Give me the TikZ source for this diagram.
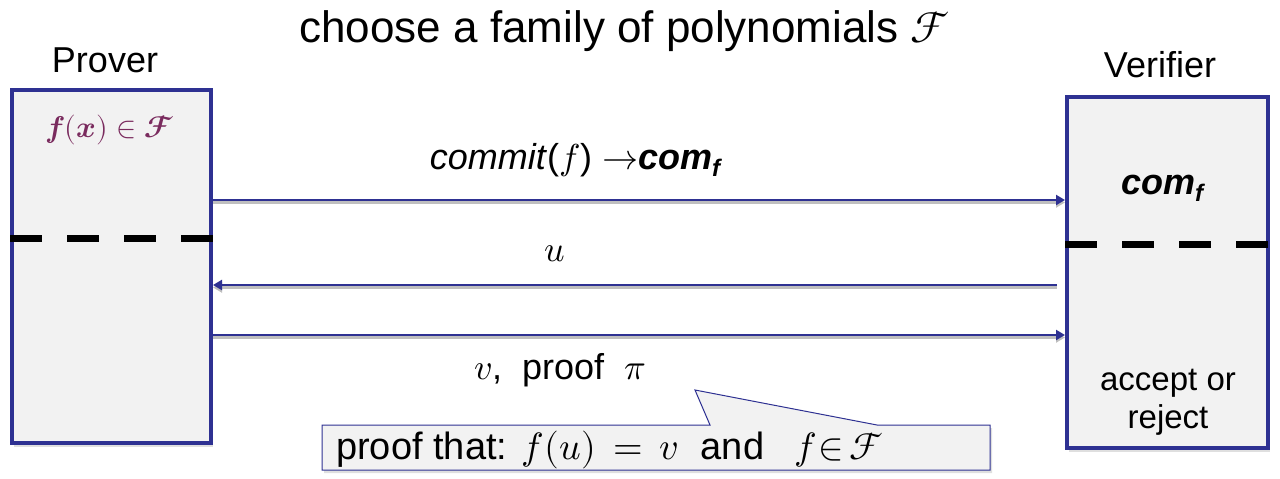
\documentclass[tikz,border=0pt]{standalone}
\usepackage{amsmath}
\usepackage{unicode-math}
\setmainfont{Liberation Sans}
\setmathfont{Latin Modern Math}
\usetikzlibrary{shadows,arrows.meta}
\definecolor{boxblue}{RGB}{46,49,146}
\definecolor{boxfill}{RGB}{242,242,242}
\definecolor{formula}{RGB}{122,43,94}
\tikzset{
  party/.style={draw=boxblue, line width=4pt, fill=boxfill, inner sep=0pt,
    drop shadow={shadow xshift=2pt, shadow yshift=-4pt, opacity=0.25}},
  msg/.style={draw=boxblue, line width=2.8pt, -{Triangle[length=9pt,width=10pt]},
    preaction={draw=black!25, line width=2.6pt, transform canvas={yshift=-2.5pt}}},
  divider/.style={draw=black, line width=7pt, dash pattern=on 32pt off 25pt},
  lbl/.style={inner sep=0pt, font=\fontsize{36}{40}\selectfont},
  callbox/.style={draw=boxblue, line width=1pt, fill=boxfill,
    drop shadow={shadow xshift=2pt, shadow yshift=-3pt, opacity=0.25}}
}
\begin{document}
\begin{tikzpicture}[x=1pt,y=-1pt]
\useasboundingbox (0,0) rectangle (1280,479);
% title and party names
\node[lbl, font=\fontsize{44}{48}\selectfont] (title) at (625,31) {choose a family of polynomials $\mathcal{F}$};
\node[lbl] (provname) at (105,60) {Prover};
\node[lbl] (verifname) at (1160,65) {Verifier};
% boxes
\node[party, minimum width=199pt, minimum height=353pt] (prover) at (111.5,266.5) {};
\node[party, minimum width=201pt, minimum height=351pt] (verifier) at (1167.5,272.5) {};
% helper levels
\coordinate (ya) at (0,238);
\coordinate (yb) at (0,244);
\coordinate (y1) at (0,200);
\coordinate (y2) at (0,285);
\coordinate (y3) at (0,335);
% dividers
\draw[divider] (prover.west |- ya) -- (prover.east |- ya);
\draw[divider] (verifier.west |- yb) -- (verifier.east |- yb);
% box contents
\node[lbl, text=formula, font=\fontsize{30}{34}\selectfont] (fx) at (110,130) {$\symbfit{f}\symbf{(}\symbfit{x}\symbf{)}\in\symbfscr{F}$};
\node[lbl] (comv) at (1163,188) {\textbf{\textit{com}}\raisebox{-7pt}{\fontsize{24}{26}\selectfont\textbf{\textit{f}}}};
\node[lbl, align=center, font=\fontsize{33}{38}\selectfont] (acc) at (1168,402) {accept or\\reject};
% messages
\coordinate (m2s) at (1057,285);
\draw[msg] (prover.east |- y1) -- (verifier.west |- y1);
\draw[msg] (m2s) -- (prover.east |- y2);
\draw[msg] (prover.east |- y3) -- (verifier.west |- y3);
\node[lbl] (commit) at (576,160) {\textit{commit}($f$) $\rightarrow$\textbf{\textit{com}}\raisebox{-7pt}{\fontsize{24}{26}\selectfont\textbf{\textit{f}}}};
\node[lbl] (ulbl) at (555,254) {$u$};
\node[lbl] (vlbl) at (560,370) {$v$,\ \ proof\ \ $\pi$};
% callout
\draw[callbox] (322,425) -- (710,425) -- (695,390) -- (877,425) -- (990,425) -- (990,470) -- (322,470) -- cycle;
\node[lbl, anchor=west, font=\fontsize{38}{40}\selectfont] (proofthat) at (336,450) {proof that:\hspace{14pt}$f\kern1pt(u\kern1pt)\,=\,v$\hspace{22pt}and\hspace{30pt}$f\kern2pt{\in}\,\mathcal{F}$};
\end{tikzpicture}
\end{document}
